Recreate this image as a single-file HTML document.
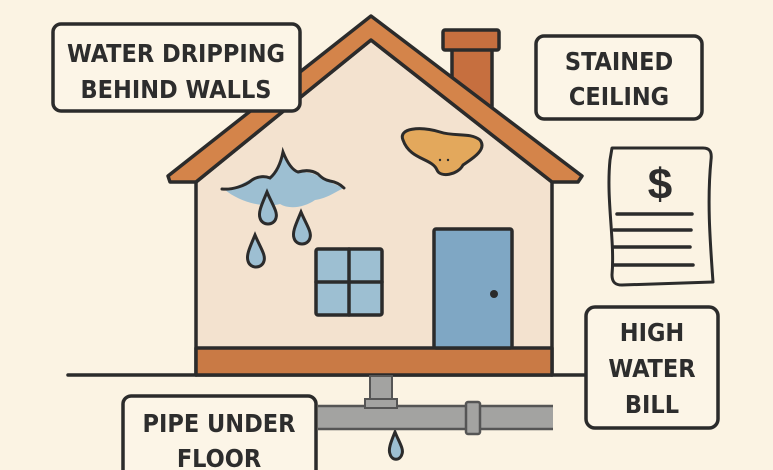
<!DOCTYPE html>
<html><head><meta charset="utf-8"><style>
html,body{margin:0;padding:0;background:#fbf3e3;}
svg{display:block}
text{font-family:"DejaVu Sans Condensed","Liberation Sans Narrow","Liberation Sans",sans-serif;font-weight:bold;fill:#2d2d2d;text-anchor:middle}
</style></head><body>
<svg width="773" height="470" viewBox="0 0 773 470" xmlns="http://www.w3.org/2000/svg">
<rect width="773" height="470" fill="#fbf3e3"/>
<g stroke="#2b2b2b" stroke-width="3.5" stroke-linejoin="round" stroke-linecap="round">
<line x1="68" y1="375" x2="196" y2="375"/>
<line x1="552" y1="375" x2="586" y2="375"/>
<rect x="452" y="48" width="40" height="60" fill="#c66f3f"/>
<rect x="443" y="30" width="56" height="20" rx="2" fill="#c66f3f"/>
<polygon points="196,182 371,40 552,182 552,375 196,375" fill="#f3e2cf"/>
<polygon points="168,176 371,16 582,176 578,182 552,182 371,40 196,182 170,182" fill="#d4844a"/>
<rect x="196" y="348" width="356" height="27" fill="#c97a45"/>
<rect x="316" y="249" width="66" height="66" rx="2" fill="#9dbfd2"/>
<line x1="349" y1="249" x2="349" y2="315"/>
<line x1="316" y1="282" x2="382" y2="282"/>
<rect x="434" y="229" width="78" height="119" rx="2" fill="#7fa7c4"/>
<path d="M403,140 C398,128 420,126 440,132 C455,137 470,132 480,140 C488,150 470,160 463,165 C458,175 440,178 437,170 C432,158 410,160 403,140 Z" fill="#e3a85c" stroke-width="3"/>
<path d="M612,148 L703,148 C710,148 712,152 711,160 C707,200 710,240 713,282 L622,285 C615,285 612,282 612,275 C615,240 606,200 610,160 Z" fill="#fbf3e3" stroke-width="3"/>
<line x1="617" y1="214" x2="692" y2="214"/>
<line x1="614" y1="230" x2="691" y2="230"/>
<line x1="613" y1="247" x2="690" y2="247"/>
<line x1="614" y1="265" x2="693" y2="265"/>
<rect x="53" y="24" width="247" height="87" rx="8" fill="#fcf5e7"/>
<rect x="536" y="36" width="166" height="83" rx="8" fill="#fcf5e7"/>
<rect x="586" y="307" width="132" height="121" rx="9" fill="#fcf5e7"/>
</g>
<path d="M224,189 C240,188 248,178 258,177 C266,176 272,178 277,170 C280,164 282,158 283,152 C286,162 292,170 300,172 C306,173 312,172 318,176 C326,181 334,184 344,188 C335,192 328,198 315,200 C305,207 290,210 280,204 C265,208 240,203 224,189 Z" fill="#9dbfd2"/>
<path d="M222,189 C232,190 245,186 252,180 C258,176 265,176 270,178 C277,172 281,162 283,152 C287,162 292,170 298,172 C305,170 312,170 318,174 C322,178 325,180 330,181 C336,182 341,185 344,188" fill="none" stroke="#2b2b2b" stroke-width="3" stroke-linecap="round"/>
<g fill="#9dbfd2" stroke="#2b2b2b" stroke-width="3">
<path d="M267,192 C262,204 258,212 260,218 C262,226 274,226 276,218 C278,212 272,204 267,192 Z"/>
<path d="M301,212 C296,224 292,232 294,238 C296,246 308,246 310,238 C312,232 306,224 301,212 Z"/>
<path d="M255,235 C250,247 246,255 248,261 C250,269 262,269 264,261 C266,255 260,247 255,235 Z"/>
<path d="M395,432 C391,442 388,449 390,454 C392,461 400,461 402,454 C404,449 399,442 395,432 Z"/>
</g>
<rect x="370" y="376" width="22" height="26" fill="#a3a3a1" stroke="#555" stroke-width="2"/>
<rect x="318" y="406" width="235" height="23" fill="#a3a3a1"/>
<line x1="318" y1="406" x2="553" y2="406" stroke="#555" stroke-width="2.5"/>
<line x1="318" y1="429" x2="553" y2="429" stroke="#555" stroke-width="2.5"/>
<rect x="365" y="399" width="32" height="9" fill="#a3a3a1" stroke="#555" stroke-width="2"/>
<rect x="466" y="402" width="14" height="32" rx="2" fill="#a3a3a1" stroke="#555" stroke-width="2.5"/>
<circle cx="494" cy="294" r="4" fill="#2b2b2b"/>
<circle cx="440" cy="160" r="1.2" fill="#2b2b2b"/><circle cx="448" cy="160" r="1.2" fill="#2b2b2b"/>
<rect x="123" y="396" width="193" height="90" rx="8" fill="#fcf5e7" stroke="#2b2b2b" stroke-width="3.5"/>
<text x="176" y="62" font-size="25">WATER DRIPPING</text>
<text x="176" y="98" font-size="25">BEHIND WALLS</text>
<text x="619" y="70" font-size="25">STAINED</text>
<text x="619" y="105" font-size="25">CEILING</text>
<text x="652" y="341" font-size="25">HIGH</text>
<text x="652" y="377" font-size="25">WATER</text>
<text x="652" y="413" font-size="25">BILL</text>
<text x="219" y="432" font-size="25">PIPE UNDER</text>
<text x="219" y="467" font-size="25">FLOOR</text>
<text x="660" y="199" font-size="44" style="font-family:'Liberation Sans',sans-serif">$</text>
</svg>
</body></html>
